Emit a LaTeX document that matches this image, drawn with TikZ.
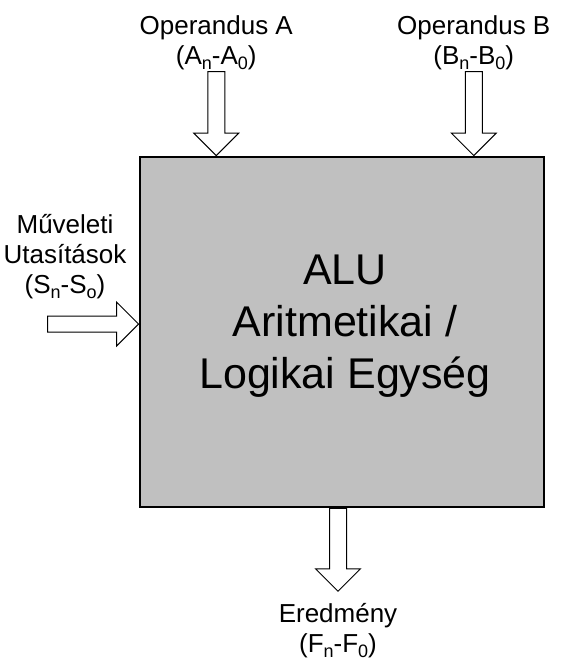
\documentclass[tikz,border=0pt]{standalone}
\usepackage{fontspec}
\setmainfont{Liberation Sans}
\usepackage{xcolor}
\usepackage{tikz}
\usetikzlibrary{shapes.arrows, positioning}

\definecolor{alugray}{RGB}{192,192,192}
\newcommand{\lowsub}[1]{\raisebox{-5pt}{\fontsize{18}{18}\selectfont #1}}

\begin{document}
\begin{tikzpicture}[
    x=1pt, y=-1pt,
    alubox/.style={rectangle, draw=black, line width=1.5pt, fill=alugray, minimum width=404pt, minimum height=350pt, inner sep=0pt},
    alutitle/.style={align=center, inner sep=0pt, font=\fontsize{43}{52}\selectfont},
    iolabel/.style={align=center, inner sep=0pt, font=\fontsize{26}{30}\selectfont},
    bus/.style={single arrow, draw=black, line width=1pt, fill=white, inner sep=8pt, minimum width=0pt, single arrow head extend=14pt, single arrow tip angle=90},
]
\useasboundingbox (0,0) rectangle (573,667);

\node[alubox] (alu) at (342,332) {};
\node[alutitle, anchor=base] (alutext) at ([xshift=3pt, yshift=-56pt]alu.center) {ALU\\Aritmetikai /\\Logikai Egység};

% inputs
\node[bus, shape border rotate=270, minimum height=84pt, anchor=tip] (arrA) at ([xshift=77pt]alu.north west) {};
\node[bus, shape border rotate=270, minimum height=84pt, anchor=tip] (arrB) at ([xshift=-71pt]alu.north east) {};
\node[bus, inner sep=7.5pt, minimum height=91pt, anchor=tip] (arrS) at ([yshift=8pt]alu.west) {};

\node[iolabel, above=1pt of arrA.tail] (opA) {Operandus A\\(A\lowsub{n}-A\lowsub{0})};
\node[iolabel, above=1pt of arrB.tail] (opB) {Operandus B\\(B\lowsub{n}-B\lowsub{0})};
\node[iolabel, anchor=base] (instr) at (65,293) {Műveleti\\Utasítások\\(S\lowsub{n}-S\lowsub{o})};

% output
\node[bus, shape border rotate=270, minimum height=83pt, anchor=tail] (arrF) at ([xshift=-4pt]alu.south) {};
\node[iolabel, below=11pt of arrF.tip] (result) {Eredmény\\(F\lowsub{n}-F\lowsub{0})};

\end{tikzpicture}
\end{document}
